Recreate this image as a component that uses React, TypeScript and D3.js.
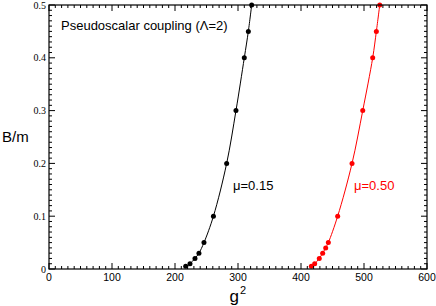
import React from "react";
import * as d3 from "d3";

const blackX = [217, 223.8, 231.7, 238, 246, 261, 282, 296.8, 310, 316.4, 321.7];
const blackY = [0.005, 0.01, 0.02, 0.03, 0.05, 0.1, 0.2, 0.3, 0.4, 0.45, 0.5];
const redX = [416.4, 421.7, 429, 434.4, 439.2, 443.4, 458.2, 481, 498, 513.8, 519.6, 525];
const redY = [0.005, 0.01, 0.02, 0.03, 0.04, 0.05, 0.1, 0.2, 0.3, 0.4, 0.45, 0.5];
const xTicks = [0, 100, 200, 300, 400, 500, 600];
const yTicks = [0, 0.1, 0.2, 0.3, 0.4, 0.5];
const yTickLabels = ["0", "0.1", "0.2", "0.3", "0.4", "0.5"];

const W = 436, H = 306;
const L = 49, R = 427, T = 5, B = 269;

export default function App() {
  const x = d3.scaleLinear().domain([0, 600]).range([L, R]);
  const y = d3.scaleLinear().domain([0, 0.5]).range([B, T]);
  const line = d3.line<[number, number]>().x(d => x(d[0])).y(d => y(d[1])).curve(d3.curveCatmullRom);
  const blk: [number, number][] = blackX.map((v, i) => [v, blackY[i]]);
  const red: [number, number][] = redX.map((v, i) => [v, redY[i]]);
  const xMinor = d3.range(0, 601, 10);
  const yMinor = d3.range(0, 51, 1).map(v => v / 100);
  const sans = "'Liberation Sans', Arial, sans-serif";
  const serif = "'Liberation Serif', 'Times New Roman', serif";
  return (
    <svg width={W} height={H} style={{ position: "absolute", left: 0, top: 0 }}>
      <rect x={0} y={0} width={W} height={H} fill="white" />
      <defs>
        <clipPath id="clip"><rect x={L} y={T - 1} width={R - L} height={B - T + 2} /></clipPath>
      </defs>
      <g clipPath="url(#clip)">
        <path d={line(blk) || ""} fill="none" stroke="black" strokeWidth={1} />
        <path d={line(red) || ""} fill="none" stroke="#ff0000" strokeWidth={1} />
      </g>
      {blk.map((d, i) => <circle key={"b" + i} cx={x(d[0])} cy={y(d[1])} r={2.5} fill="black" />)}
      {red.map((d, i) => <circle key={"r" + i} cx={x(d[0])} cy={y(d[1])} r={2.5} fill="#ff0000" />)}
      {xMinor.map(v => {
        const major = v % 100 === 0;
        const len = major ? 6 : 3;
        return (
          <g key={"xm" + v}>
            <line x1={x(v)} x2={x(v)} y1={B} y2={B - len} stroke="black" strokeWidth={1} />
            <line x1={x(v)} x2={x(v)} y1={T} y2={T + len} stroke="black" strokeWidth={1} />
          </g>
        );
      })}
      {yMinor.map((v, i) => {
        const major = i % 10 === 0;
        const len = major ? 6 : 3;
        return (
          <g key={"ym" + i}>
            <line x1={L} x2={L + len} y1={y(v)} y2={y(v)} stroke="black" strokeWidth={1} />
            <line x1={R} x2={R - len} y1={y(v)} y2={y(v)} stroke="black" strokeWidth={1} />
          </g>
        );
      })}
      <rect x={L} y={T} width={R - L} height={B - T} fill="none" stroke="black" strokeWidth={1.2} />
      {xTicks.map(v => (
        <text key={"xt" + v} x={x(v)} y={B + 12} textAnchor="middle" fontFamily={sans} fontSize={10.5}>{v}</text>
      ))}
      {yTicks.map((v, i) => (
        <text key={"yt" + i} x={L - 3} y={y(v) + 3.5} textAnchor="end" fontFamily={serif} fontSize={10}>{yTickLabels[i]}</text>
      ))}
      <text x={61} y={30} fontFamily={sans} fontSize={13}>Pseudoscalar coupling (Λ=2)</text>
      <text x={233} y={189.5} fontFamily={sans} fontSize={13}>μ=0.15</text>
      <text x={354} y={189.5} fontFamily={sans} fontSize={13} fill="#ff0000">μ=0.50</text>
      <text x={2} y={142} fontFamily={sans} fontSize={15}>B/m</text>
      <text x={229.5} y={302} fontFamily={sans} fontSize={17}>g</text>
      <text x={240} y={294} fontFamily={sans} fontSize={11}>2</text>
    </svg>
  );
}
